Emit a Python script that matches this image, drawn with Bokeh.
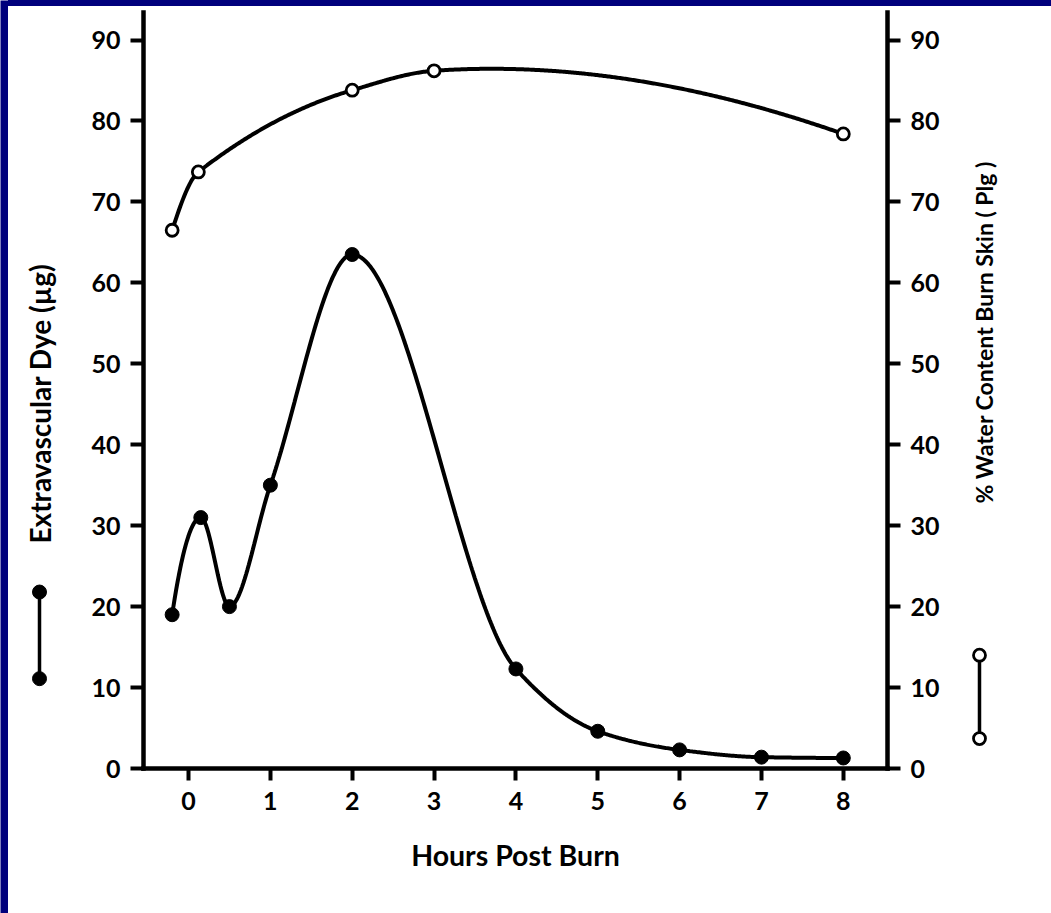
import math
import numpy as np
from bokeh.plotting import figure
from bokeh.layouts import row, column
from bokeh.models import Range1d, LinearAxis, FixedTicker, Spacer
from bokeh.core.properties import value
from bokeh.embed import file_html
from bokeh.resources import INLINE

# ---------------- data ----------------
dye_hours = [-0.2, 0.15, 0.5, 1, 2, 4, 5, 6, 7, 8]
dye_ug = [19.0, 31.0, 20.0, 35.0, 63.5, 12.3, 4.6, 2.3, 1.4, 1.3]
water_hours = [-0.2, 0.12, 2, 3, 8]
water_pct = [66.5, 73.7, 83.8, 86.2, 78.4]
x_ticks = [0, 1, 2, 3, 4, 5, 6, 7, 8]
y_ticks = [0, 10, 20, 30, 40, 50, 60, 70, 80, 90]
x_title = "Hours Post Burn"
left_title = "Extravascular Dye  (\u00b5g)"
right_title = "% Water Content Burn Skin ( Plg )"

# ---------------- layout / style constants ----------------
FONT = "Lato"
NAVY = "#00007c"
X_START, X_END = -0.55, 8.54
Y_START, Y_END = 0, 93.4
H = 907
TOP, BOTTOM = 6, 145


def hermite(x, y, m, xs):
    x = np.asarray(x, float); y = np.asarray(y, float); h = np.diff(x)
    idx = np.clip(np.searchsorted(x, xs) - 1, 0, len(x) - 2)
    t = (xs - x[idx]) / h[idx]
    h00 = 2 * t**3 - 3 * t**2 + 1; h10 = t**3 - 2 * t**2 + t
    h01 = -2 * t**3 + 3 * t**2; h11 = t**3 - t**2
    return h00 * y[idx] + h10 * h[idx] * m[idx] + h01 * y[idx + 1] + h11 * h[idx] * m[idx + 1]


def pchip(x, y, xs):
    x = np.asarray(x, float); y = np.asarray(y, float)
    h = np.diff(x); d = np.diff(y) / h
    n = len(x); m = np.zeros(n)
    for k in range(1, n - 1):
        if d[k - 1] * d[k] > 0:
            w1 = 2 * h[k] + h[k - 1]; w2 = h[k] + 2 * h[k - 1]
            m[k] = (w1 + w2) / (w1 / d[k - 1] + w2 / d[k])

    def end(h0, h1, d0, d1):
        v = ((2 * h0 + h1) * d0 - h0 * d1) / (h0 + h1)
        if np.sign(v) != np.sign(d0):
            return 0.0
        if np.sign(d0) != np.sign(d1) and abs(v) > 3 * abs(d0):
            return 3 * d0
        return v
    m[0] = end(h[0], h[1], d[0], d[1])
    m[-1] = end(h[-1], h[-2], d[-1], d[-2])
    return hermite(x, y, m, xs)


def akima(x, y, xs):
    x = np.asarray(x, float); y = np.asarray(y, float)
    n = len(x)
    s = np.diff(y) / np.diff(x)
    s_ext = np.concatenate([[3 * s[0] - 2 * s[1], 2 * s[0] - s[1]], s,
                            [2 * s[-1] - s[-2], 3 * s[-1] - 2 * s[-2]]])
    m = np.zeros(n)
    for i in range(n):
        s0, s1, s2, s3 = s_ext[i], s_ext[i + 1], s_ext[i + 2], s_ext[i + 3]
        w1 = abs(s3 - s2); w2 = abs(s1 - s0)
        m[i] = (s1 + s2) / 2 if w1 + w2 == 0 else (w1 * s1 + w2 * s2) / (w1 + w2)
    return hermite(x, y, m, xs)


def bare(width, height, yr, bt, bb):
    f = figure(width=width, height=height, output_backend="svg", toolbar_location=None,
               x_axis_location=None, y_axis_location=None,
               x_range=Range1d(0, 1), y_range=yr, margin=0,
               min_border_left=0, min_border_right=0, min_border_top=bt, min_border_bottom=bb)
    f.grid.visible = False
    f.outline_line_color = None
    return f


# ---------------- main plot ----------------
yr = Range1d(Y_START, Y_END)
p = figure(width=887, height=H, output_backend="svg", toolbar_location=None,
           x_range=Range1d(X_START, X_END), y_range=yr, margin=0,
           min_border_left=73, min_border_right=70, min_border_top=TOP, min_border_bottom=BOTTOM)
p.extra_y_ranges = {"water": Range1d(Y_START, Y_END)}
p.add_layout(LinearAxis(y_range_name="water"), "right")
p.grid.visible = False
p.outline_line_color = None
p.background_fill_color = "white"
p.border_fill_color = "white"

for ax in p.axis:
    ax.axis_line_width = 4.5
    ax.axis_line_color = "black"
    ax.axis_line_cap = "square"
    ax.major_tick_line_width = 4
    ax.major_tick_line_color = "black"
    ax.major_tick_in = 0
    ax.minor_tick_line_color = None
    ax.major_label_text_font = FONT
    ax.major_label_text_font_style = "bold"
    ax.major_label_text_font_size = "25px"
    ax.major_label_text_color = "black"

p.xaxis.ticker = FixedTicker(ticks=x_ticks)
p.xaxis.major_tick_out = 12
p.xaxis.major_label_standoff = 11
p.xaxis.axis_label = x_title
p.xaxis.axis_label_text_font = FONT
p.xaxis.axis_label_text_font_style = "bold"
p.xaxis.axis_label_text_font_size = "28.5px"
p.xaxis.axis_label_text_color = "black"
p.xaxis.axis_label_standoff = 25
for ax in p.yaxis:
    ax.ticker = FixedTicker(ticks=y_ticks)
    ax.major_tick_out = 13
    ax.major_label_standoff = 10

xs_d = np.linspace(dye_hours[0], dye_hours[-1], 500)
p.line(xs_d, pchip(dye_hours, dye_ug, xs_d), line_color="black", line_width=4)
xs_w = np.linspace(water_hours[0], water_hours[-1], 500)
p.line(xs_w, akima(water_hours, water_pct, xs_w), line_color="black", line_width=4,
       y_range_name="water")
p.scatter(dye_hours, dye_ug, marker="circle", size=14, fill_color="black", line_color="black")
p.scatter(water_hours, water_pct, marker="circle", size=12, fill_color="white", line_color="black",
          line_width=2.8, y_range_name="water")

# ---------------- side panels: rotated titles and series keys ----------------
left = bare(62, H, yr, TOP, BOTTOM)
left.text(x=[0.5], y=[45.5], text=[left_title], angle=math.pi / 2, text_align="center",
          text_baseline="middle", text_font=value(FONT), text_font_style="bold",
          text_font_size="28px", text_color="black")
left.segment(x0=[0.5], y0=[21.8], x1=[0.5], y1=[11.1], line_color="black", line_width=3.5)
left.scatter([0.5, 0.5], [21.8, 11.1], marker="circle", size=14, fill_color="black", line_color="black")

right = bare(94, H, yr, TOP, BOTTOM)
right.text(x=[0.277], y=[53.9], text=[right_title], angle=math.pi / 2, text_align="center",
           text_baseline="middle", text_font=value(FONT), text_font_style="bold",
           text_font_size="23px", text_color="black")
right.segment(x0=[0.234], y0=[14.0], x1=[0.234], y1=[3.7], line_color="black", line_width=3.5)
right.scatter([0.234, 0.234], [14.0, 3.7], marker="circle", size=12, fill_color="white",
              line_color="black", line_width=2.8)

# ---------------- navy slide frame strips (left and top edges) ----------------
strip_left = figure(width=8, height=913, output_backend="svg", toolbar_location=None,
                    x_axis_location=None, y_axis_location=None, margin=0,
                    x_range=Range1d(0, 1), y_range=Range1d(0, 1),
                    min_border_left=0, min_border_right=0, min_border_top=0, min_border_bottom=0)
strip_left.grid.visible = False
strip_left.outline_line_color = None
strip_left.background_fill_color = NAVY
strip_left.border_fill_color = NAVY

strip_top = Spacer(width=1043, height=6, margin=0, styles={"background-color": NAVY})

root = row(strip_left, column(strip_top, row(left, p, right, margin=0, spacing=0),
                              margin=0, spacing=0), margin=0, spacing=0)
open("out.html", "w").write(file_html(root, INLINE))
